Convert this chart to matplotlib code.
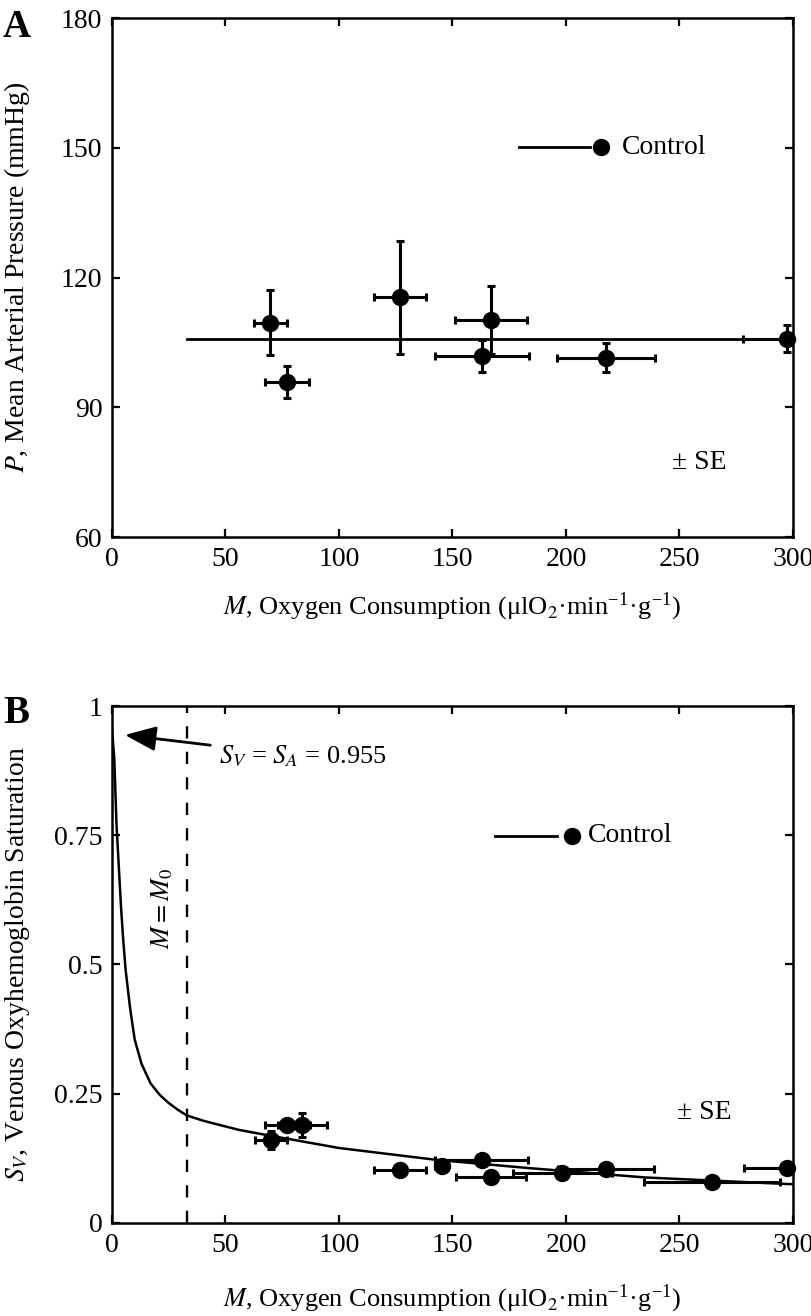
import matplotlib
matplotlib.use('Agg')
import matplotlib.pyplot as plt

plt.rcParams['font.family'] = ['Liberation Serif', 'DejaVu Serif']
plt.rcParams['mathtext.fontset'] = 'stix'

# ---------------- Panel A data ----------------
a_M = [69.7, 77.2, 126.9, 167.0, 163.0, 217.6, 297.5]
a_M_err = [7.3, 9.7, 11.3, 16.0, 20.5, 21.5, 19.4]
a_P = [109.6, 95.8, 115.4, 110.2, 101.9, 101.5, 105.9]
a_P_err = [7.5, 3.7, 13.0, 7.8, 3.7, 3.3, 3.1]
a_fit_M = [33, 300]
a_fit_P = [105.9, 105.9]

# ---------------- Panel B data ----------------
b_M = [70.0, 77.2, 83.8, 126.9, 145.2, 162.8, 167.0, 198.4, 217.6, 264.2, 297.2]
b_M_err = [7.0, 10.0, 10.8, 11.3, 3.0, 20.6, 15.5, 21.8, 21.3, 30.0, 19.0]
b_S = [0.161, 0.189, 0.189, 0.103, 0.111, 0.121, 0.088, 0.097, 0.105, 0.080, 0.107]
b_S_err = [0.017, 0.010, 0.023, 0.012, 0.008, 0.008, 0.008, 0.010, 0.008, 0.008, 0.008]
curve_M = [0, 1, 2, 3, 4, 5, 6, 8, 10, 13, 17, 21, 25, 29, 33, 40, 47, 56, 67, 100,
           143, 184, 235, 294, 300]
curve_S = [0.955, 0.90, 0.77, 0.69, 0.61, 0.545, 0.49, 0.415, 0.355, 0.308, 0.27, 0.248,
           0.232, 0.219, 0.208, 0.198, 0.19, 0.18, 0.171, 0.145, 0.122, 0.106, 0.088,
           0.076, 0.075]
M0 = 33
S_A = 0.955

x_ticks = [0, 50, 100, 150, 200, 250, 300]
a_y_ticks = [60, 90, 120, 150, 180]
b_y_ticks = [0, 0.25, 0.5, 0.75, 1]
b_y_ticklabels = ['0', '0.25', '0.5', '0.75', '1']

TFS = 20   # tick labels
LFS = 19   # x labels / texts
YFS = 20   # y labels
xlabel = r'$M$, Oxygen Consumption (μlO$_2$·min$^{\mathregular{-1}}$·g$^{\mathregular{-1}}$)'

fig = plt.figure(figsize=(8.12, 13.16), dpi=100)
L, W = 0.1379, 0.8387
axA = fig.add_axes([L, 0.5919, W, 0.3944])
axB = fig.add_axes([L, 0.0707, W, 0.3928])


def style(ax):
    for s in ax.spines.values():
        s.set_linewidth(1.8)
    ax.tick_params(direction='in', length=6, width=1.6, top=True, right=True,
                   labelsize=TFS, pad=7)
    ax.set_xticks(x_ticks)
    ax.set_xlim(0, 300)


err_kw = dict(fmt='none', ecolor='black', elinewidth=2.2, capsize=3.0, capthick=2.2)

# ---------------- Panel A ----------------
style(axA)
axA.plot(a_fit_M, a_fit_P, color='black', lw=2.0)
axA.errorbar(a_M, a_P, xerr=a_M_err, yerr=a_P_err, **err_kw)
axA.plot(a_M, a_P, 'o', color='black', ms=11.5, clip_on=False, zorder=5)
axA.set_ylim(60, 180)
axA.set_yticks(a_y_ticks)
axA.set_xlabel(xlabel, fontsize=LFS)
axA.xaxis.set_label_coords(0.5, -0.102)
axA.set_ylabel(r'$P$, Mean Arterial Pressure (mmHg)', fontsize=YFS)
axA.yaxis.set_label_coords(-0.118, 0.5)
axA.plot([0.598, 0.702], [0.751, 0.751], color='black', lw=2.0, transform=axA.transAxes)
axA.plot([0.718], [0.751], 'o', color='black', ms=11.5, transform=axA.transAxes)
axA.text(0.749, 0.751, 'Control', transform=axA.transAxes, fontsize=TFS, va='center', ha='left')
axA.text(0.822, 0.143, '± SE', transform=axA.transAxes, fontsize=TFS, va='center', ha='left')
fig.text(0.0037, 0.9719, 'A', fontsize=28, fontweight='bold', va='baseline', ha='left')

# ---------------- Panel B ----------------
style(axB)
axB.plot(curve_M, curve_S, color='black', lw=1.8)
axB.axvline(M0, color='black', lw=1.7, ls=(0, (5.2, 5.6)))
axB.errorbar(b_M, b_S, xerr=b_M_err, yerr=b_S_err, **err_kw)
axB.plot(b_M, b_S, 'o', color='black', ms=11.5, clip_on=False, zorder=5)
axB.set_ylim(0, 1)
axB.set_yticks(b_y_ticks)
axB.set_yticklabels(b_y_ticklabels)
axB.set_xlabel(xlabel, fontsize=LFS)
axB.xaxis.set_label_coords(0.5, -0.116)
axB.set_ylabel(r'$S_V$, Venous Oxyhemoglobin Saturation', fontsize=YFS)
axB.yaxis.set_label_coords(-0.118, 0.5)
axB.annotate(r'$S_V$ = $S_A$ = 0.955', xy=(5.7, 0.944), xytext=(47, 0.903),
             fontsize=LFS, va='center', ha='left',
             arrowprops=dict(arrowstyle='-|>,head_length=1.0,head_width=0.4',
                             color='black', lw=2.0, shrinkA=4, shrinkB=0))
axB.text(22, 0.608, r'$M = M_0$', rotation=90, fontsize=LFS, va='center', ha='center')
axB.plot([0.562, 0.653], [0.749, 0.749], color='black', lw=2.0, transform=axB.transAxes)
axB.plot([0.675], [0.749], 'o', color='black', ms=11.5, transform=axB.transAxes)
axB.text(0.699, 0.749, 'Control', transform=axB.transAxes, fontsize=TFS, va='center', ha='left')
axB.text(0.830, 0.213, '± SE', transform=axB.transAxes, fontsize=TFS, va='center', ha='left')
fig.text(0.0037, 0.4506, 'B', fontsize=28, fontweight='bold', va='baseline', ha='left')

fig.savefig('out.png', dpi=100)
